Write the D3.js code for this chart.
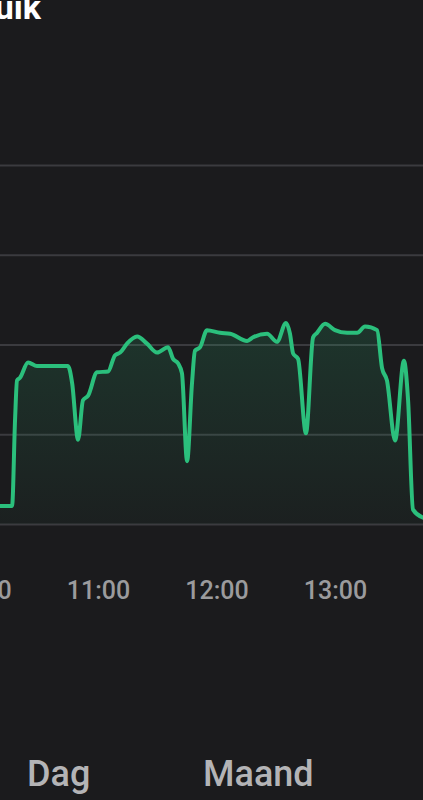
<!DOCTYPE html>
<html><head><meta charset="utf-8">
<script src="https://cdn.jsdelivr.net/npm/d3@7"></script>
<style>
html,body{margin:0;padding:0;background:#1b1b1d;overflow:hidden;}
svg{display:block;}
</style></head>
<body>
<script>
// ---- data ----
const times = ["10:10:24","10:15:30","10:16:30","10:18:00","10:19:00","10:20:30","10:24:36","10:29:06","10:44:48","10:46:54","10:49:54","10:52:24","10:55:00","10:59:30","11:05:06","11:08:36","11:11:12","11:14:42","11:19:48","11:24:48","11:29:54","11:35:30","11:38:00","11:40:30","11:42:30","11:45:06","11:47:36","11:49:06","11:51:42","11:55:12","12:01:48","12:06:54","12:15:30","12:18:30","12:25:36","12:30:36","12:35:12","12:37:12","12:38:48","12:41:18","12:45:18","12:48:54","12:50:54","12:55:00","13:00:00","13:06:06","13:11:12","13:15:12","13:21:18","13:23:48","13:26:18","13:30:24","13:34:54","13:37:00","13:39:30","13:44:36"];
const values = [0.20,0.20,0.20,1.16,1.60,1.63,1.80,1.76,1.76,1.57,0.94,1.38,1.43,1.69,1.70,1.88,1.91,2.01,2.09,2.01,1.91,1.97,1.84,1.79,1.68,0.70,1.57,1.93,1.97,2.16,2.13,2.12,2.04,2.08,2.12,2.03,2.24,2.12,1.90,1.84,1.01,2.08,2.13,2.23,2.16,2.13,2.13,2.20,2.16,1.74,1.60,0.93,1.82,1.38,0.16,0.07];
const gridValues = [0,1,2,3,4];
const tickLabels = ["10:00","11:00","12:00","13:00","14:00"];
const title = "Verbruik";
const tabs = ["Dag","Maand"];

const W = 423, H = 800;
const parse = d3.timeParse("%H:%M:%S");
const parseHM = d3.timeParse("%H:%M");
const data = times.map((t,i)=>({t:parse(t), v:values[i]}));

const svg = d3.select("body").append("svg").attr("width",W).attr("height",H);
svg.append("rect").attr("width",W).attr("height",H).attr("fill","#1b1b1d");

const x = d3.scaleTime().domain([parseHM("10:00"), parseHM("14:00")]).range([-20.5, 453.5]);
const y = d3.scaleLinear().domain([0,4]).range([524,165]);

// gridlines
const gy = svg.append("g").call(d3.axisLeft(y).tickValues(gridValues).tickSize(-W).tickFormat(""));
gy.select(".domain").remove();
gy.selectAll(".tick line").attr("stroke","#3b3b3f").attr("stroke-width",2);

// gradient
const defs = svg.append("defs");
const grad = defs.append("linearGradient").attr("id","fillg").attr("x1",0).attr("y1",0).attr("x2",0).attr("y2",1);
grad.append("stop").attr("offset","0%").attr("stop-color","#2bbf7c").attr("stop-opacity",0.16);
grad.append("stop").attr("offset","100%").attr("stop-color","#2bbf7c").attr("stop-opacity",0.03);

const area = d3.area().x(d=>x(d.t)).y0(y(0)).y1(d=>y(d.v)).curve(d3.curveMonotoneX);
const line = d3.line().x(d=>x(d.t)).y(d=>y(d.v)).curve(d3.curveMonotoneX);

svg.append("path").datum(data).attr("d",area).attr("fill","url(#fillg)");
svg.append("path").datum(data).attr("d",line).attr("fill","none")
  .attr("stroke","#2bbf7c").attr("stroke-width",4).attr("stroke-linejoin","round").attr("stroke-linecap","round");

// x axis labels
const gx = svg.append("g").attr("transform","translate(0,575)")
  .call(d3.axisBottom(x).tickValues(tickLabels.map(s=>parseHM(s))).tickFormat((d,i)=>tickLabels[i]).tickSize(0).tickPadding(0));
gx.select(".domain").remove();
gx.selectAll(".tick text").attr("fill","#9b9b9d").attr("font-family","Roboto, sans-serif")
  .attr("font-size",25).attr("font-weight",500).attr("dy","0.96em");

// title (cropped at top-left)
svg.append("text").attr("x",41).attr("y",19).attr("text-anchor","end")
  .attr("fill","#ffffff").attr("font-family","Roboto, sans-serif").attr("font-weight",700)
  .attr("font-size",34).text(title);

// tabs
svg.append("text").attr("x",27).attr("y",786).attr("fill","#b4b4b6")
  .attr("font-family","Roboto, sans-serif").attr("font-weight",500).attr("font-size",36).text(tabs[0]);
svg.append("text").attr("x",203).attr("y",786).attr("fill","#b4b4b6")
  .attr("font-family","Roboto, sans-serif").attr("font-weight",500).attr("font-size",36).text(tabs[1]);
</script>
</body></html>
